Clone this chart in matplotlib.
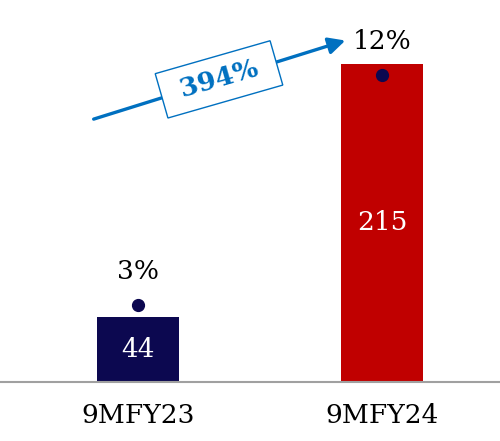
import matplotlib
import matplotlib.pyplot as plt
matplotlib.use('Agg')

categories = ['9MFY23', '9MFY24']
values = [44, 215]
shares = [3, 12]
share_labels = ['3%', '12%']
growth_label = '394%'
bar_colors = ['#0C0850', '#C00000']

plt.rcParams['font.family'] = ['DejaVu Serif']

fig = plt.figure(figsize=(5, 4.41), dpi=100)
ax = fig.add_axes([0, 0.134, 1, 0.866])
x = [0, 1]
bars = ax.bar(x, values, width=0.336, color=bar_colors)
ax.bar_label(bars, labels=[str(v) for v in values], label_type='center',
             color='white', fontsize=19)
ax.set_xlim(-0.5656, 1.484)
ax.set_ylim(0, 258)
ax.set_xticks(x)
ax.set_xticklabels(categories, fontsize=19)
ax.tick_params(axis='x', length=0, pad=15)
ax.set_yticks([])
for s in ['top', 'left', 'right']:
    ax.spines[s].set_visible(False)
ax.spines['bottom'].set_color('#A0A0A0')
ax.spines['bottom'].set_linewidth(1.5)

ax2 = ax.twinx()
ax2.plot(x, shares, 'o', color='#0C0850', markersize=8.5, ls='none')
ax2.set_ylim(0, 14.93)
ax2.set_yticks([])
for s in ['top', 'left', 'right', 'bottom']:
    ax2.spines[s].set_visible(False)
for xi, yi, lab in zip(x, shares, share_labels):
    ax2.annotate(lab, (xi, yi), xytext=(0, 24), textcoords='offset points',
                 ha='center', va='center', fontsize=19)

# arrow and growth box
ax2.annotate('', xy=(0.696, 0.910), xytext=(0.182, 0.728),
             xycoords='figure fraction', textcoords='figure fraction',
             arrowprops=dict(arrowstyle='-|>,head_length=1.0,head_width=0.5',
                             color='#0070C0', lw=2.4))
fig.text(0.438, 0.820, ' ' + growth_label + ' ', rotation=16, ha='center',
         va='center', color='#0070C0', fontsize=19, fontweight='bold',
         rotation_mode='anchor',
         bbox=dict(boxstyle='square,pad=0.4', fc='white', ec='#0070C0', lw=1))

fig.savefig('out.png', dpi=100)
